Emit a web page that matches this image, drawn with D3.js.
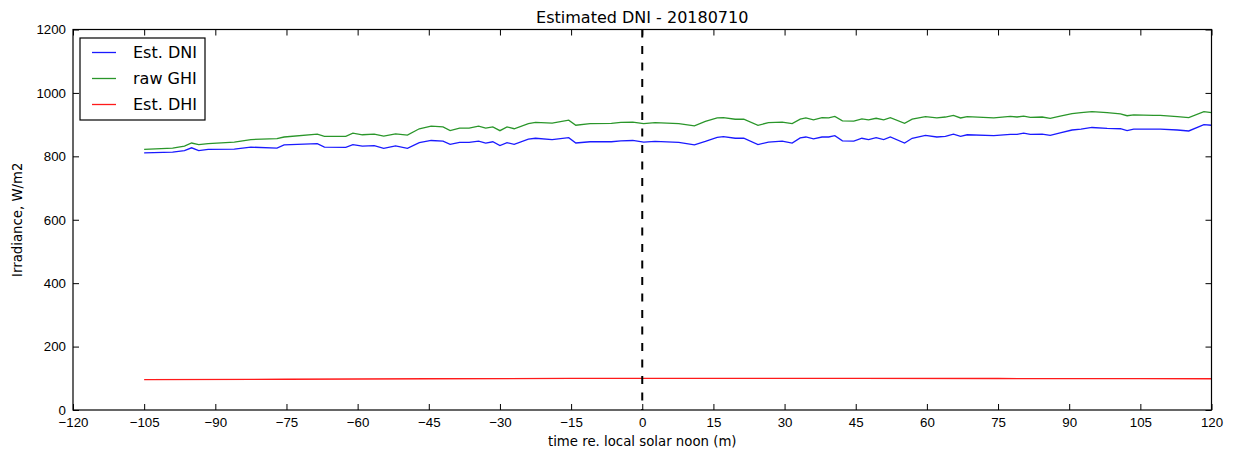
<!DOCTYPE html>
<html>
<head>
<meta charset="utf-8">
<script src="https://cdn.jsdelivr.net/npm/d3@7"></script>
<style>
  body { margin: 0; background: #fff; }
  svg { font-family: "DejaVu Sans", sans-serif; }
</style>
</head>
<body>
<svg width="1238" height="451"></svg>
<script>
"use strict";

// minutes relative to local solar noon
var times = [-105, -99, -96.5, -95, -93.5, -91.5, -86, -82.5, -77, -75.5,
    -68.5, -67, -62.5, -61, -59, -56.5, -54.5, -52, -49.5, -47,
    -44.5, -42, -40.5, -38.5, -36.5, -34.5, -33, -31.5, -30, -28.5,
    -27, -24, -22.5, -19, -15.5, -14, -11, -6.5, -4.5, -2,
    0.3, 2.7, 7.7, 11, 13.3, 15.8, 17.1, 19.6, 21.4, 24.4,
    26.6, 29.5, 31.6, 33.3, 34.5, 36.1, 37.9, 39.3, 40.6, 42.2,
    44.6, 46.3, 47.7, 49.3, 50.9, 52.3, 55.3, 56.9, 59.7, 62.1,
    63.9, 65.6, 67.1, 68.5, 74.1, 77.6, 79, 80.4, 81.8, 84.3,
    86, 88.1, 90.6, 92.5, 94.8, 98, 100.8, 102.2, 103.6, 107.8,
    109.2, 112.8, 115.2, 118.4, 120];

var estDNI = [811, 813, 818, 827, 818, 822, 823, 829, 826, 836,
    840, 829, 828, 837, 832, 834, 825, 833, 825, 843,
    850, 848, 838, 844, 844, 848, 842, 846, 834, 843,
    838, 854, 857, 853, 859, 842, 846, 846, 849, 850,
    845, 847, 844, 836, 847, 860, 862, 857, 857, 837,
    845, 848, 842, 858, 861, 855, 861, 861, 865, 849,
    848, 857, 853, 859, 853, 861, 842, 857, 866, 861,
    863, 870, 863, 868, 865, 869, 869, 873, 869, 870,
    866, 874, 883, 886, 891, 888, 887, 881, 886, 886,
    886, 883, 880, 900, 898];

var rawGHI = [822, 826, 832, 842, 837, 840, 845, 853, 856, 861,
    870, 863, 863, 873, 868, 870, 864, 871, 867, 887,
    895, 893, 881, 889, 889, 895, 889, 893, 881, 893,
    887, 903, 907, 905, 914, 898, 903, 904, 907, 908,
    903, 906, 903, 896, 910, 921, 922, 917, 917, 898,
    906, 908, 903, 917, 921, 915, 922, 921, 926, 912,
    911, 918, 915, 920, 915, 922, 904, 917, 925, 921,
    924, 929, 921, 925, 921, 926, 924, 927, 923, 924,
    920, 927, 935, 938, 941, 938, 934, 928, 931, 929,
    929, 925, 922, 941, 938];

var dhiTimes = [-105, -75, -45, -15, 0, 15, 45, 75, 105, 120];
var estDHI = [96, 97, 98.5, 99.5, 100, 100, 99.8, 99.3, 98.8, 98.6];

var xTicks = d3.range(-120, 121, 15);
var yTicks = d3.range(0, 1201, 200);

var seriesNames = ["Est. DNI", "raw GHI", "Est. DHI"];
var seriesColors = ["#1a1aff", "#2a962a", "#ff1a1a"];

var margin = { top: 29.5, right: 26.5, bottom: 41, left: 73 };
var width = 1238 - margin.left - margin.right;
var height = 451 - margin.top - margin.bottom;

var svg = d3.select("svg");
var g = svg.append("g")
    .attr("transform", "translate(" + margin.left + "," + margin.top + ")");

var x = d3.scaleLinear().domain([-120, 120]).range([0, width]);
var y = d3.scaleLinear().domain([0, 1200]).range([height, 0]);

// Lines
var line = d3.line()
    .x(function (d) { return x(d[0]); })
    .y(function (d) { return y(d[1]); });

var series = [
    d3.zip(times, estDNI),
    d3.zip(times, rawGHI),
    d3.zip(dhiTimes, estDHI)
];

g.selectAll("path.series")
    .data(series)
    .enter()
    .append("path")
    .classed("series", true)
    .attr("d", line)
    .attr("fill", "none")
    .attr("stroke", function (d, i) { return seriesColors[i]; })
    .attr("stroke-width", 1.3);

// Noon marker
g.append("line")
    .attr("x1", x(0)).attr("x2", x(0))
    .attr("y1", 0).attr("y2", height)
    .attr("stroke", "#000")
    .attr("stroke-width", 2)
    .attr("stroke-dasharray", "8,8.5");

// Axes, ticks pointing inward on all four sides
function styleAxis(sel) {
    sel.select(".domain").remove();
    sel.selectAll("line").attr("stroke", "#000");
    sel.selectAll("text").attr("fill", "#000").style("font-size", "13.3px");
}

g.append("g")
    .attr("transform", "translate(0," + height + ")")
    .call(d3.axisBottom(x).tickValues(xTicks).tickSizeInner(-6).tickSizeOuter(0).tickPadding(8))
    .call(styleAxis);

g.append("g")
    .call(d3.axisTop(x).tickValues(xTicks).tickSizeInner(-6).tickSizeOuter(0).tickFormat(""))
    .call(styleAxis);

g.append("g")
    .call(d3.axisLeft(y).tickValues(yTicks).tickFormat(d3.format("d"))
        .tickSizeInner(-6).tickSizeOuter(0).tickPadding(7))
    .call(styleAxis);

g.append("g")
    .attr("transform", "translate(" + width + ",0)")
    .call(d3.axisRight(y).tickValues(yTicks).tickSizeInner(-6).tickSizeOuter(0).tickFormat(""))
    .call(styleAxis);

// Frame
g.append("rect")
    .attr("width", width)
    .attr("height", height)
    .attr("fill", "none")
    .attr("stroke", "#000")
    .attr("stroke-width", 1.2);

// Title and labels
svg.append("text")
    .attr("x", margin.left + width / 2)
    .attr("y", 23)
    .attr("text-anchor", "middle")
    .style("font-size", "16px")
    .text("Estimated DNI - 20180710");

svg.append("text")
    .attr("x", margin.left + width / 2)
    .attr("y", 446)
    .attr("text-anchor", "middle")
    .style("font-size", "13.3px")
    .text("time re. local solar noon (m)");

svg.append("text")
    .attr("transform", "translate(22," + (margin.top + height / 2) + ") rotate(-90)")
    .attr("text-anchor", "middle")
    .style("font-size", "13.3px")
    .text("Irradiance, W/m2");

// Legend
var legend = svg.append("g").attr("transform", "translate(80,38)");
legend.append("rect")
    .attr("width", 125)
    .attr("height", 82)
    .attr("fill", "#fff")
    .attr("stroke", "#000")
    .attr("stroke-width", 1.2);

var items = legend.selectAll("g.item")
    .data(seriesNames)
    .enter()
    .append("g")
    .classed("item", true)
    .attr("transform", function (d, i) { return "translate(0," + (14.5 + i * 26) + ")"; });

items.append("line")
    .attr("x1", 12).attr("x2", 36)
    .attr("stroke", function (d, i) { return seriesColors[i]; })
    .attr("stroke-width", 1.3);

items.append("text")
    .attr("x", 53)
    .attr("dy", "0.36em")
    .style("font-size", "16px")
    .text(function (d) { return d; });
</script>
</body>
</html>
